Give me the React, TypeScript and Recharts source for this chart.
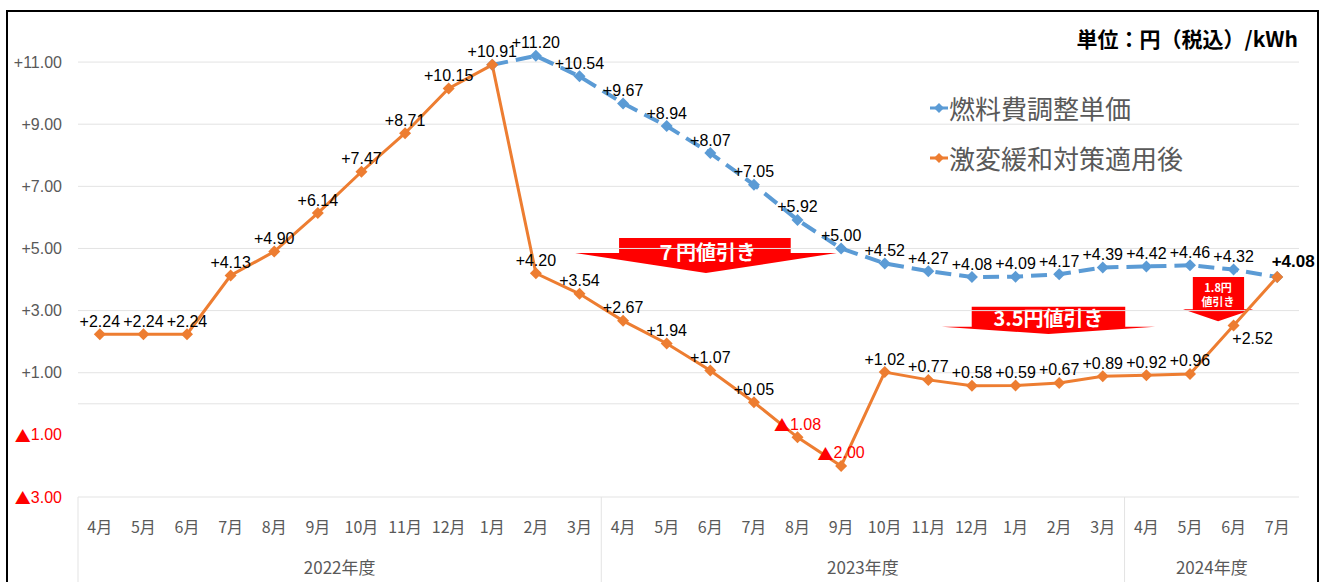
import {
  LineChart,
  Line,
  XAxis,
  YAxis,
  ReferenceLine,
  ReferenceArea,
  LabelList,
  Legend,
} from "recharts";

// 月（2022年度4月〜2024年度7月）
const months = [
  "4月", "5月", "6月", "7月", "8月", "9月", "10月", "11月", "12月", "1月", "2月", "3月",
  "4月", "5月", "6月", "7月", "8月", "9月", "10月", "11月", "12月", "1月", "2月", "3月",
  "4月", "5月", "6月", "7月",
];

const fiscalYears = ["2022年度", "2023年度", "2024年度"];
const fiscalYearMonths = [12, 12, 4];

// 燃料費調整単価 (円/kWh) - shown from 1月 2023
const fuelAdjustment = [
  null, null, null, null, null, null, null, null, null,
  10.91, 11.2, 10.54, 9.67, 8.94, 8.07, 7.05, 5.92, 5.0, 4.52, 4.27,
  4.08, 4.09, 4.17, 4.39, 4.42, 4.46, 4.32, 4.08,
];

// 激変緩和対策適用後 (円/kWh)
const afterRelief = [
  2.24, 2.24, 2.24, 4.13, 4.9, 6.14, 7.47, 8.71, 10.15, 10.91, 4.2, 3.54,
  2.67, 1.94, 1.07, 0.05, -1.08, -2.0, 1.02, 0.77, 0.58, 0.59, 0.67, 0.89,
  0.92, 0.96, 2.52, 4.08,
];

const yTicks = [-3, -1, 1, 3, 5, 7, 9, 11];
const gridValues = [0, 1, 3, 5, 7, 9, 11];

const seriesNames = ["燃料費調整単価", "激変緩和対策適用後"];
const unitText = "単位：円（税込）/kWh";

const BLUE = "#5B9BD5";
const ORANGE = "#ED7D31";
const GRAY = "#595959";
const GRID = "#e3e3e3";
const RED = "#FF0000";
const NUM_FONT = "'Liberation Sans', 'DejaVu Sans', sans-serif";
const JP_FONT = "'Noto Sans CJK JP', sans-serif";

const data = months.map((m, i) => ({
  idx: i,
  month: m,
  fuel: fuelAdjustment[i],
  after: afterRelief[i],
}));

// fiscal year boundaries and label centers on the index axis
const fyBounds: number[] = [];
const fyCenters: number[] = [];
let start = 0;
fiscalYearMonths.forEach((n) => {
  fyBounds.push(start - 0.5);
  fyCenters.push(start - 0.5 + n / 2);
  start += n;
});
const fyTicks = [...fyBounds, ...fyCenters].sort((a, b) => a - b);

// red "値引き" callouts (area in index / value space)
const callouts = [
  { lines: ["７円値引き"], x1: 10.9, x2: 16.9, y1: 4.21, y2: 5.34, bodyL: 0.168, bodyR: 0.824, base: 0.43, font: 20, textY: [0.4] },
  { lines: ["3.5円値引き"], x1: 19.31, x2: 24.2, y1: 2.25, y2: 3.12, bodyL: 0.14, bodyR: 0.86, base: 0.74, font: 20, textY: [0.41] },
  { lines: ["1.8円", "値引き"], x1: 24.84, x2: 26.45, y1: 2.66, y2: 4.08, bodyL: 0.14, bodyR: 0.87, base: 0.73, font: 11, textY: [0.23, 0.55] },
];

// negative values are written with a ▲ instead of a minus sign
const fmt = (v: number) =>
  v < 0 ? (
    <>
      <tspan fontFamily={JP_FONT}>▲</tspan>
      {Math.abs(v).toFixed(2)}
    </>
  ) : (
    "+" + v.toFixed(2)
  );

const Diamond = (props: any) => {
  const { cx, cy, fill } = props;
  if (cx == null || cy == null || props.value == null) return <g />;
  const r = 6;
  return (
    <polygon
      points={`${cx},${cy - r} ${cx + r},${cy} ${cx},${cy + r} ${cx - r},${cy}`}
      fill={fill}
    />
  );
};

const YTick = (props: any) => {
  const { x, y, payload } = props;
  const v = payload.value;
  return (
    <text
      x={x}
      y={y}
      textAnchor="end"
      dominantBaseline="central"
      fontSize={16}
      fontFamily={NUM_FONT}
      fill={v < 0 ? RED : GRAY}
    >
      {fmt(v)}
    </text>
  );
};

const MonthTick = (props: any) => {
  const { x, y, payload } = props;
  return (
    <text
      x={x}
      y={y + 29}
      textAnchor="middle"
      dominantBaseline="central"
      fontSize={16}
      fontFamily={JP_FONT}
      fill={GRAY}
    >
      {months[payload.value]}
    </text>
  );
};

const FiscalTick = (props: any) => {
  const { x, y, payload } = props;
  const v = payload.value;
  if (fyBounds.includes(v)) {
    return <line x1={x} x2={x} y1={y - 45} y2={y + 45} stroke={GRID} strokeWidth={1} />;
  }
  const k = fyCenters.indexOf(v);
  return (
    <text
      x={x}
      y={y + 24}
      textAnchor="middle"
      dominantBaseline="central"
      fontSize={17}
      fontFamily={JP_FONT}
      fill={GRAY}
    >
      {fiscalYears[k]}
    </text>
  );
};

const AfterLabel = (props: any) => {
  const { x, y, value, index } = props;
  if (value == null) return null;
  let dx = 0;
  let dy = -13;
  let bold = false;
  if (index === 26) {
    dx = 19;
    dy = 13;
  }
  if (index === 27) {
    dx = 16;
    dy = -16;
    bold = true;
  }
  return (
    <text
      x={x + dx}
      y={y + dy}
      textAnchor="middle"
      dominantBaseline="central"
      fontSize={bold ? 17 : 16}
      fontWeight={bold ? "bold" : "normal"}
      fontFamily={NUM_FONT}
      fill={value < 0 ? RED : "#000"}
    >
      {fmt(value)}
    </text>
  );
};

const FuelLabel = (props: any) => {
  const { x, y, value, index } = props;
  // 1月 and the last month coincide with the orange series
  if (value == null || index === 9 || index === 27) return null;
  return (
    <text
      x={x}
      y={y - 13}
      textAnchor="middle"
      dominantBaseline="central"
      fontSize={16}
      fontFamily={NUM_FONT}
      fill="#000"
    >
      {fmt(value)}
    </text>
  );
};

const calloutShape = (c: (typeof callouts)[number]) => (props: any) => {
  const { x, y, width: w, height: h } = props;
  const by = y + h * c.base;
  const pts = [
    [x + w * c.bodyL, y],
    [x + w * c.bodyR, y],
    [x + w * c.bodyR, by],
    [x + w, by],
    [x + w / 2, y + h],
    [x, by],
    [x + w * c.bodyL, by],
  ]
    .map((p) => p.join(","))
    .join(" ");
  return (
    <g>
      <polygon points={pts} fill={RED} />
      {c.lines.map((t, i) => (
        <text
          key={t}
          x={x + w / 2}
          y={y + h * c.textY[i]}
          textAnchor="middle"
          dominantBaseline="central"
          fontSize={c.font}
          fontWeight="bold"
          fontFamily={JP_FONT}
          fill="#fff"
        >
          {t}
        </text>
      ))}
    </g>
  );
};

const LegendContent = () => (
  <div style={{ fontFamily: JP_FONT }}>
    {seriesNames.map((name, i) => (
      <div key={name} style={{ display: "flex", alignItems: "center", height: 50 }}>
        <svg width={19} height={12}>
          <line x1={0} x2={18} y1={6} y2={6} stroke={i === 0 ? BLUE : ORANGE} strokeWidth={3} />
          <polygon points="9,1 14,6 9,11 4,6" fill={i === 0 ? BLUE : ORANGE} />
        </svg>
        <span style={{ fontSize: 26, color: GRAY, lineHeight: "30px" }}>{name}</span>
      </div>
    ))}
  </div>
);

export default function App() {
  return (
    <div
      style={{
        position: "absolute",
        left: 0,
        top: 0,
        width: 1325,
        height: 582,
        background: "#fff",
        overflow: "hidden",
      }}
    >
      <LineChart
        width={1325}
        height={582}
        data={data}
        margin={{ top: 31, right: 26, left: 0, bottom: 0 }}
      >
        <XAxis
          dataKey="idx"
          type="number"
          domain={[-0.5, 27.5]}
          ticks={data.map((d) => d.idx)}
          interval={0}
          height={45}
          tickSize={0}
          tickMargin={0}
          tickLine={false}
          axisLine={{ stroke: GRID }}
          tick={<MonthTick />}
        />
        <XAxis
          xAxisId="fy"
          dataKey="idx"
          type="number"
          domain={[-0.5, 27.5]}
          ticks={fyTicks}
          interval={0}
          height={40}
          tickSize={0}
          tickMargin={0}
          tickLine={false}
          axisLine={false}
          tick={<FiscalTick />}
        />
        <YAxis
          type="number"
          domain={[-3, 12]}
          ticks={yTicks}
          interval={0}
          width={78}
          tickSize={0}
          tickMargin={16}
          tickLine={false}
          axisLine={false}
          tick={<YTick />}
        />
        {gridValues.map((v) => (
          <ReferenceLine key={v} y={v} stroke={GRID} strokeWidth={1} />
        ))}
        {callouts.map((c) => (
          <ReferenceArea
            key={c.lines[0]}
            x1={c.x1}
            x2={c.x2}
            y1={c.y1}
            y2={c.y2}
            ifOverflow="visible"
            shape={calloutShape(c)}
          />
        ))}
        <Legend
          layout="vertical"
          align="center"
          verticalAlign="middle"
          content={<LegendContent />}
          wrapperStyle={{ position: "absolute", left: 930, top: 83, width: 300, height: 100 }}
        />
        <Line
          dataKey="fuel"
          name={seriesNames[0]}
          stroke={BLUE}
          strokeWidth={4}
          strokeDasharray="16 8"
          dot={<Diamond fill={BLUE} />}
          activeDot={false}
          isAnimationActive={false}
        >
          <LabelList dataKey="fuel" content={<FuelLabel />} />
        </Line>
        <Line
          dataKey="after"
          name={seriesNames[1]}
          stroke={ORANGE}
          strokeWidth={3}
          dot={<Diamond fill={ORANGE} />}
          activeDot={false}
          isAnimationActive={false}
        >
          <LabelList dataKey="after" content={<AfterLabel />} />
        </Line>
      </LineChart>
      <div
        style={{
          position: "absolute",
          right: 27,
          top: 24,
          height: 28,
          lineHeight: "28px",
          fontSize: 21,
          fontWeight: "bold",
          fontFamily: JP_FONT,
          color: "#000",
          whiteSpace: "nowrap",
        }}
      >
        {unitText}
      </div>
      <div
        style={{
          position: "absolute",
          left: 6,
          top: 10,
          width: 1313,
          height: 600,
          border: "2px solid #000",
          boxSizing: "border-box",
          pointerEvents: "none",
        }}
      />
    </div>
  );
}
